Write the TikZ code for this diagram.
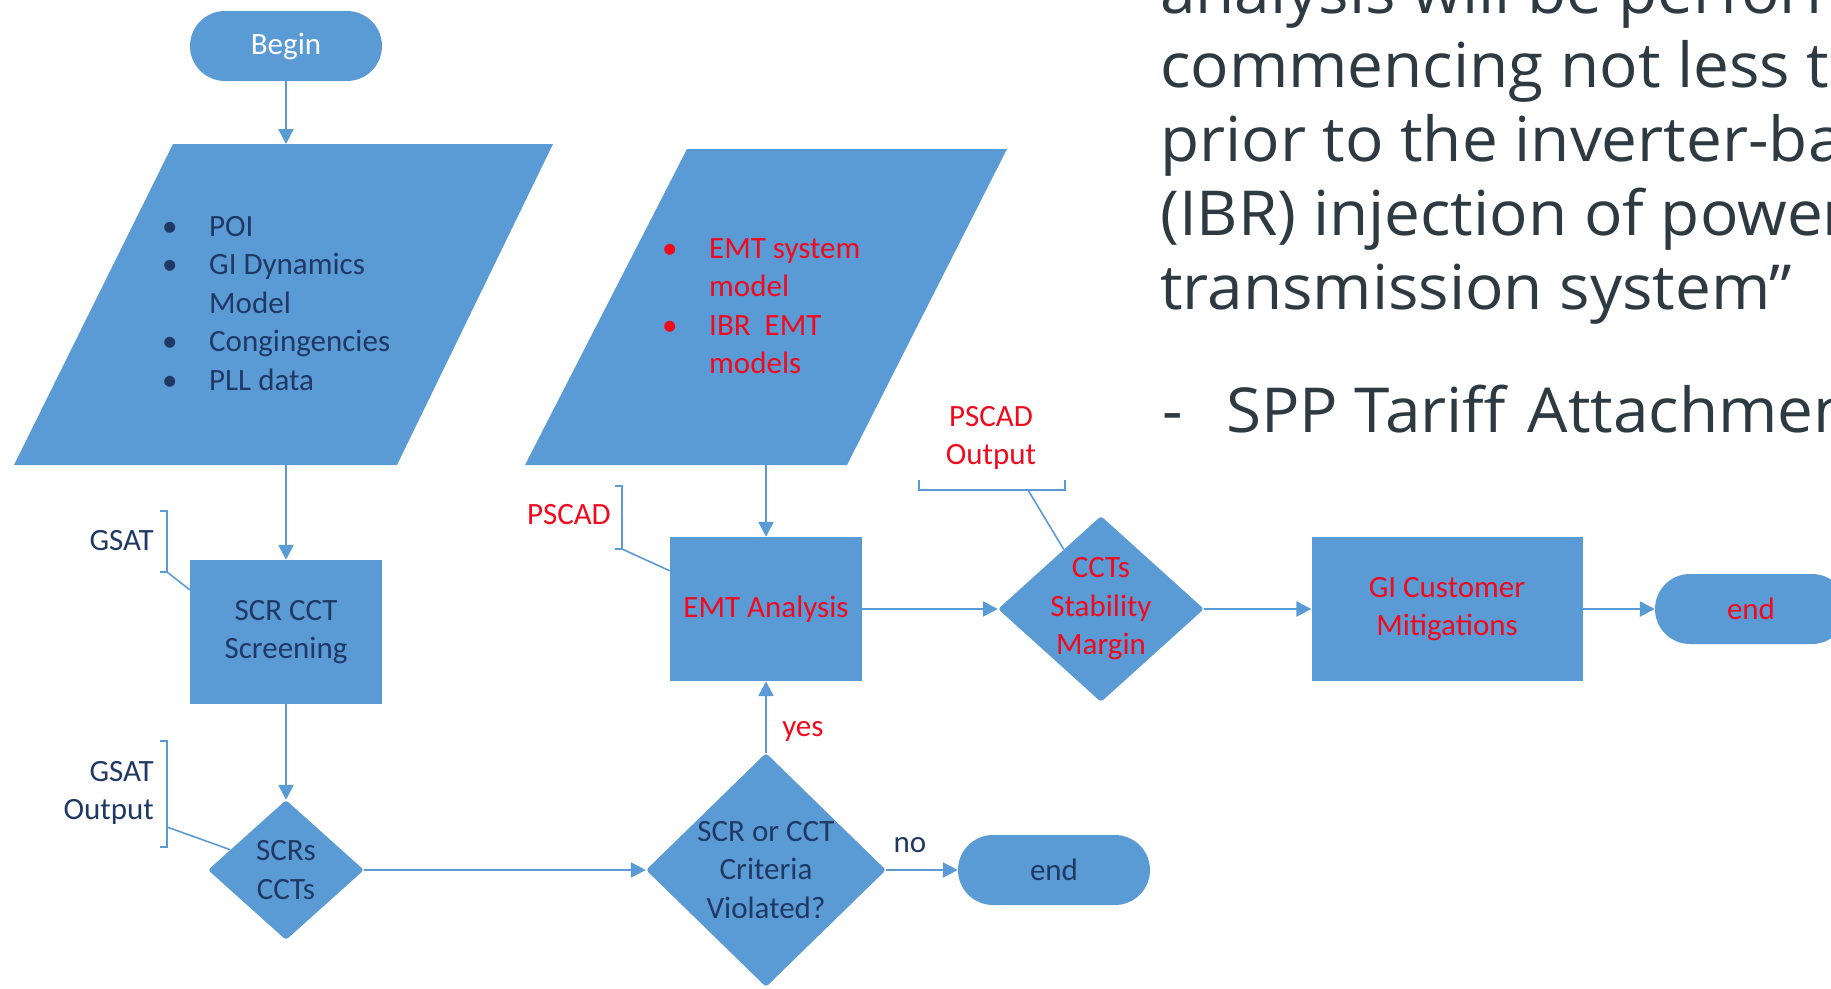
\documentclass[tikz,border=0pt]{standalone}
\usepackage{fontspec}
\setmainfont{Carlito}
\newfontfamily\slidefont[FakeStretch=1.03]{Open Sans}
\usetikzlibrary{positioning, arrows.meta, shapes.geometric}

\definecolor{flowblue}{RGB}{91,155,213}
\definecolor{navytext}{RGB}{31,56,100}
\definecolor{alertred}{RGB}{240,10,30}
\definecolor{slidegray}{RGB}{46,58,66}

\newcommand{\bitem}[1]{\makebox[47pt][l]{\textbullet}#1}
\newcommand{\bcont}[1]{\hspace*{47pt}#1}

\tikzset{
  flow/.style={fill=flowblue, draw=none, text=navytext, align=center,
    font=\fontsize{31}{38.5}\selectfont},
  term/.style={flow, rectangle, rounded corners=35pt, minimum width=192pt, minimum height=70pt},
  proc/.style={flow, rectangle, minimum height=144pt},
  decide/.style={flow, diamond, inner sep=0pt, rounded corners=3pt},
  dtext/.style={text=navytext, align=center, font=\fontsize{31}{38.5}\selectfont},
  note/.style={text=navytext, inner sep=0pt, font=\fontsize{31}{38.5}\selectfont},
  link/.style={draw=flowblue, line width=2.5pt},
  brace/.style={draw=flowblue, line width=1.6pt},
  slide/.style={text=slidegray, align=left, inner sep=0pt,
    font=\slidefont\fontsize{62}{73.8}\selectfont}
}

\begin{document}
\begin{tikzpicture}[x=1pt, y=-1pt, on grid, >={Triangle[length=15pt, width=15pt]}]
  \useasboundingbox (0,0) rectangle (1831,988);
  \clip (0,0) rectangle (1831,988);

  % input data
  \fill[flowblue] (14,465) -- (397,465) -- (553,144) -- (173,144) -- cycle;
  \fill[flowblue] (525,465) -- (847,465) -- (1007,149) -- (687,149) -- cycle;
  \coordinate (gitop) at (286,144);
  \coordinate (gibot) at (286,465);
  \coordinate (emtbot) at (766,465);
  \node[note, align=left, anchor=north west] (gidata) at (162,216)
    {\bitem{POI}\\\bitem{GI Dynamics}\\\bcont{Model}\\\bitem{Congingencies}\\\bitem{PLL data}};
  \node[note, text=alertred, align=left, anchor=north west] (emtdata) at (662,238)
    {\bitem{EMT system}\\\bcont{model}\\\bitem{IBR\ \ EMT}\\\bcont{models}};

  % flow
  \node[term, text=white] (begin) at (286,46) {Begin};
  \node[proc, minimum width=192pt, below=586pt of begin] (screen) {SCR CCT\\Screening};
  \node[decide, minimum width=156pt, minimum height=140pt, below=238pt of screen,
    label={[dtext]center:{SCRs\\CCTs}}] (scrs) {};
  \node[decide, minimum width=240pt, minimum height=234pt, right=480pt of scrs,
    label={[dtext]center:{SCR or CCT\\Criteria\\Violated?}}] (check) {};
  \node[term, right=288pt of check] (stop) {end};
  \node[proc, minimum width=192pt, above=261pt of check, text=alertred] (emt) {EMT Analysis};
  \node[decide, minimum width=206pt, minimum height=186pt, right=335pt of emt,
    label={[dtext, text=alertred]center:{CCTs\\Stability\\Margin}}] (ccts) {};
  \node[proc, minimum width=271pt, right=346pt of ccts, text=alertred] (fix) {GI Customer\\Mitigations};
  \node[term, right=304pt of fix, text=alertred] (done) {end};

  \draw[link, ->] (begin) -- (gitop);
  \draw[link, ->] (gibot) -- (screen);
  \draw[link, ->] (screen) -- (scrs);
  \draw[link, ->] (scrs) -- (check);
  \draw[link, ->] (check) -- node[note, pos=0.33, above=16pt] {no} (stop);
  \draw[link, ->] (check) -- node[note, text=alertred, pos=0.3, right=15pt] {yes} (emt);
  \draw[link, ->] (emtbot) -- (emt);
  \draw[link, ->] (emt) -- (ccts);
  \draw[link, ->] (ccts) -- (fix);
  \draw[link, ->] (fix) -- (done);

  % tool notes
  \node[note, anchor=east] (gsat) at (154,541) {GSAT};
  \draw[brace] (160,511) -- (167,511) -- (167,572) -- (160,572);
  \draw[brace] (167,572) -- ([yshift=-30pt]screen.north west);
  \node[note, align=right, anchor=east] (gsatout) at (154,793) {GSAT\\Output};
  \draw[brace] (160,741) -- (167,741) -- (167,847) -- (160,847);
  \draw[brace] (167,827) -- (scrs.160);
  \node[note, text=alertred, anchor=east] (pscad) at (611,515) {PSCAD};
  \draw[brace] (615,486) -- (622,486) -- (622,549) -- (615,549);
  \draw[brace] (622,549) -- ([yshift=-34pt]emt.north west);
  \node[note, text=alertred, align=center] (pscadout) at (991,438) {PSCAD\\Output};
  \draw[brace] (919,480) -- (919,490) -- (1065,490) -- (1065,480);
  \draw[brace] (1028,490) -- (ccts.122);

  % slide text
  \node[slide, anchor=base west] (quote) at (1160,309)
    {analysis will be performed\\commencing not less than\\prior to the inverter-based\\(IBR) injection of power\\transmission system”};
  \node[slide, anchor=base west] (tariff) at (1162,432)
    {\makebox[64pt][l]{-}SPP Tariff\hspace{22pt}Attachment};
\end{tikzpicture}
\end{document}
